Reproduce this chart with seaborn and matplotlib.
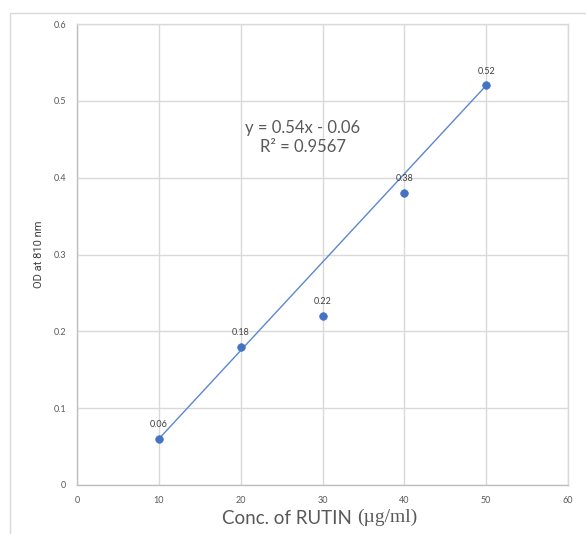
import matplotlib
matplotlib.use("Agg")
import matplotlib.pyplot as plt
import seaborn as sns
import pandas as pd
from matplotlib.patches import Rectangle

conc = [10, 20, 30, 40, 50]
od = [0.06, 0.18, 0.22, 0.38, 0.52]
point_labels = ["0.06", "0.18", "0.22", "0.38", "0.52"]
trend_x = [10, 50]
trend_y = [0.06, 0.52]
x_ticks = [0, 10, 20, 30, 40, 50, 60]
y_ticks = [0, 0.1, 0.2, 0.3, 0.4, 0.5, 0.6]
y_tick_labels = ["0", "0.1", "0.2", "0.3", "0.4", "0.5", "0.6"]
equation = "y = 0.54x - 0.06\nR² = 0.9567"

sns.set_theme(style="white")
plt.rcParams["font.family"] = ["Lato", "DejaVu Sans"]

df = pd.DataFrame({"conc": conc, "od": od})
tdf = pd.DataFrame({"x": trend_x, "y": trend_y})

fig = plt.figure(figsize=(5.86, 5.34), dpi=100)
fig.patch.set_facecolor("white")
# chart-area frame (cut off at right/bottom)
fig.patches.append(Rectangle((10 / 586, -0.1), 2.0, (534 - 13) / 534 + 0.1,
                             transform=fig.transFigure, fill=False,
                             edgecolor="#d9d9d9", linewidth=1.0))

ax = fig.add_axes([77 / 586, 49 / 534, 491 / 586, 461 / 534])
blue = "#4472C4"
sns.lineplot(data=tdf, x="x", y="y", ax=ax, color="#5b87d1", linewidth=1.0, zorder=3)
sns.scatterplot(data=df, x="conc", y="od", ax=ax, color=blue, s=30,
                edgecolor=blue, linewidth=0.5, zorder=4)

for x, y, lab in zip(conc, od, point_labels):
    ax.annotate(lab, (x, y), xytext=(0, 7), textcoords="offset points",
                ha="center", va="bottom", fontsize=6.5, color="#404040")

ax.set_xlim(0, 60)
ax.set_ylim(0, 0.6)
ax.set_xticks(x_ticks)
ax.set_yticks(y_ticks)
ax.set_yticklabels(y_tick_labels)
ax.tick_params(axis="both", labelsize=6.5, colors="#595959", length=0, pad=8)
ax.grid(True, color="#d9d9d9", linewidth=1.0)
ax.set_axisbelow(True)
for s in ax.spines.values():
    s.set_visible(True)
    s.set_color("#d9d9d9")
    s.set_linewidth(1.0)
ax.spines["left"].set_color("#bfbfbf")
ax.spines["bottom"].set_color("#bfbfbf")

ax.set_xlabel("")
ax.set_ylabel("OD at 810 nm", fontsize=8, color="#404040", family=["Roboto", "DejaVu Sans"],
              labelpad=7)

ax.text(27.6, 0.452, equation, ha="center", va="center", fontsize=12,
        color="#595959", linespacing=1.25)

t1 = fig.text(222 / 586, 1 - 518 / 534, "Conc. of RUTIN ", ha="left", va="center",
              fontsize=13.5, color="#595959")
ax.annotate("(µg/ml)", xy=(1, 0), xycoords=t1, ha="left", va="bottom",
            fontsize=14, color="#595959", family=["Liberation Serif", "DejaVu Serif"],
            annotation_clip=False)

fig.savefig("out.png", dpi=100)
